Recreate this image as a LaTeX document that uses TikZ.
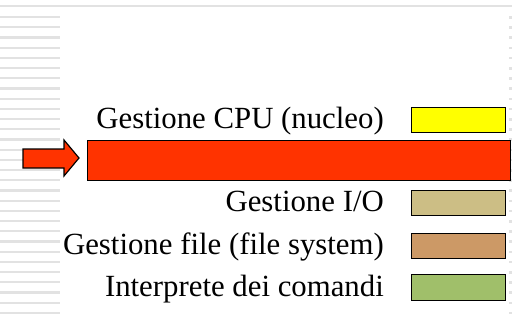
\documentclass[tikz,border=0pt]{standalone}
\usepackage{fontspec}
\setmainfont{Liberation Serif}
\definecolor{cpured}{HTML}{FF3300}
\definecolor{cpuyel}{HTML}{FFFF00}
\definecolor{iotan}{HTML}{CCBE85}
\definecolor{fsbrown}{HTML}{CC9966}
\definecolor{shgreen}{HTML}{A0BF6A}
\definecolor{stripe}{HTML}{E2E2E2}
\tikzset{
  legbox/.style={draw=black, line width=1.4pt, minimum width=94pt, minimum height=25pt, inner sep=0pt, anchor=north west},
  label/.style={anchor=base east, inner sep=0pt, font=\fontsize{30.8}{32}\selectfont},
}
\begin{document}
\begin{tikzpicture}[x=1pt,y=-1pt]
\useasboundingbox (0,0) rectangle (512,322);
\fill[white] (0,0) rectangle (512,322);
% left stripes
\foreach \i in {0,...,29}
  \draw[stripe, line width=2.2pt] (0,{17+10.2*\i}) -- (60,{17+10.2*\i});
% top rule
\draw[stripe, line width=2.4pt] (0,6) -- (512,6);
% right dotted edge
\foreach \i in {0,...,29}
  \fill[stripe] (508.5,{16+10.2*\i}) rectangle (511.5,{18.5+10.2*\i});
% labels
\node[label] (cpu) at (384,128) {Gestione CPU (nucleo)};
\node[label] (io) at (384,211) {Gestione I/O};
\node[label] (fs) at (384,254) {Gestione file (file system)};
\node[label] (sh) at (384,296) {Interprete dei comandi};
% legend boxes
\node[legbox, fill=cpuyel] (bcpu) at (411,107) {};
\node[legbox, fill=iotan] (bio) at (411,190) {};
\node[legbox, fill=fsbrown] (bfs) at (411,233) {};
\node[legbox, fill=shgreen, minimum height=26pt] (bsh) at (411,274) {};
% red bar
\node[draw=black, line width=1.4pt, fill=cpured, minimum width=423pt, minimum height=40pt, inner sep=0pt, anchor=north west] (bar) at (87,140) {};
% arrow
\draw[black, line width=1.2pt, fill=cpured, line join=miter]
  (23,149) -- (64,149) -- (64,140) -- (79,158) -- (64,176) -- (64,168) -- (23,168) -- cycle;
\end{tikzpicture}
\end{document}
